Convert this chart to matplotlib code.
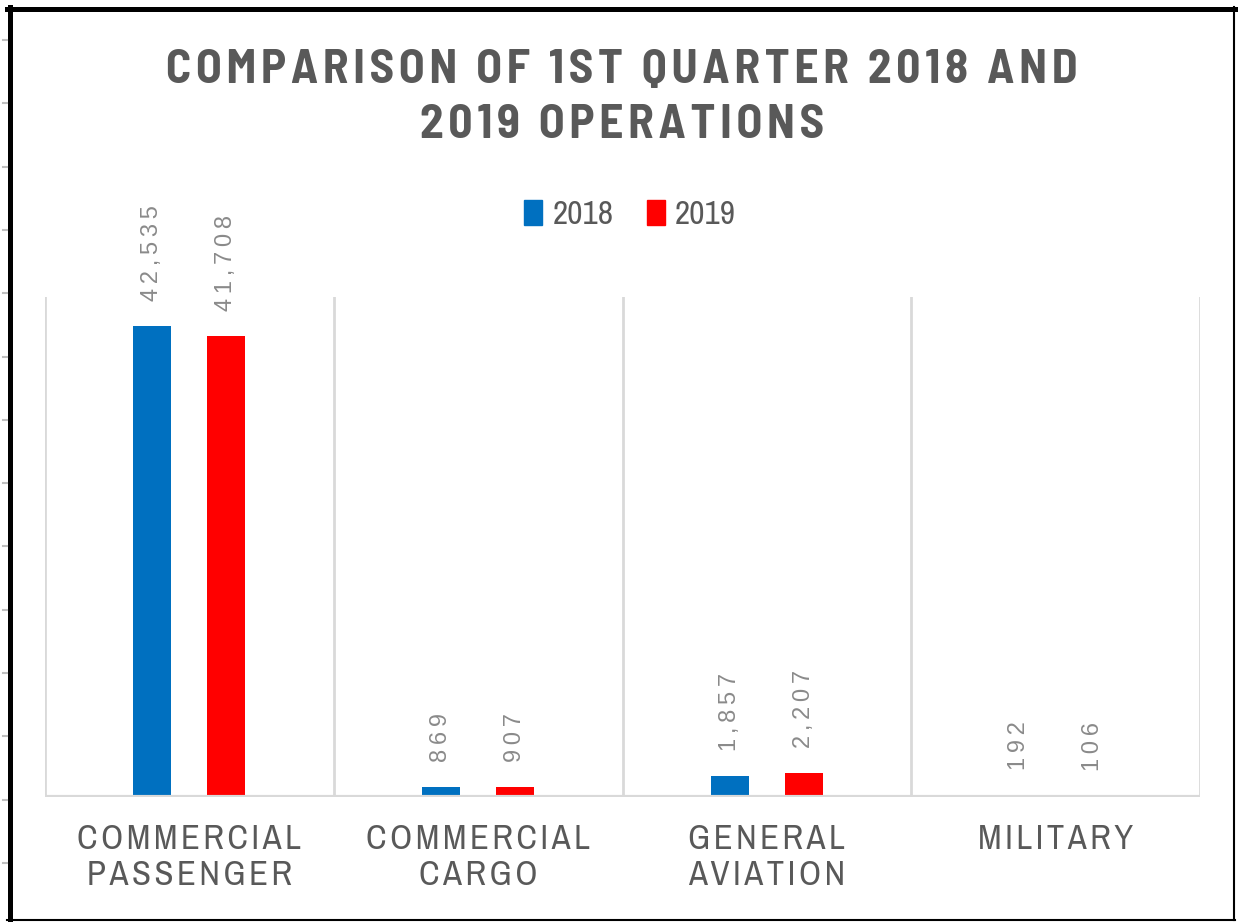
import matplotlib
matplotlib.use("Agg")
import matplotlib.pyplot as plt
from matplotlib.patches import Patch
from matplotlib.lines import Line2D
import numpy as np

categories = ["COMMERCIAL\nPASSENGER", "COMMERCIAL\nCARGO", "GENERAL\nAVIATION", "MILITARY"]
series_names = ["2018", "2019"]
v2018 = [42535, 869, 1857, 192]
v2019 = [41708, 907, 2207, 106]
title = "COMPARISON OF 1ST QUARTER 2018 AND\n2019 OPERATIONS"

BLUE = "#0070C0"
RED = "#FF0000"
DARK = "#595959"
LIGHT = "#8a8a8a"
GRID = "#d9d9d9"

NARROW = ["Archivo Narrow", "DejaVu Sans"]
TITLEF = ["Barlow Semi Condensed", "DejaVu Sans"]
REG = ["Liberation Sans", "DejaVu Sans"]


def spaced(s, sp="\u200a"):
    return "\n".join(sp.join(line) for line in s.split("\n"))


W, H = 1239, 922
fig = plt.figure(figsize=(W / 100, H / 100), dpi=100)
ax = fig.add_axes([45 / W, 1 - 797 / H, (1200 - 45) / W, (797 - 297) / H])

x = np.arange(len(categories))
off = 0.128
bw = 0.132
b1 = ax.bar(x - off, v2018, bw, color=BLUE, zorder=2)
b2 = ax.bar(x + off, v2019, bw, color=RED, zorder=2)

for bars, vals in ((b1, v2018), (b2, v2019)):
    for r, v in zip(bars, vals):
        ax.annotate(spaced(f"{v:,}", "\u2009"), (r.get_x() + r.get_width() / 2, r.get_height()),
                    xytext=(0, 18), textcoords="offset points", rotation=90,
                    ha="center", va="bottom", fontsize=17, color=LIGHT, family=REG)

ax.set_xlim(-0.5, len(categories) - 0.5)
ax.set_ylim(0, 45200)
for b in np.arange(-0.5, len(categories), 1.0):
    ax.axvline(b, color=GRID, lw=2, zorder=1)
ax.axhline(0, color=GRID, lw=3, zorder=3)
for s in ax.spines.values():
    s.set_visible(False)
ax.set_yticks([])
ax.set_xticks(x)
ax.set_xticklabels([spaced(c) for c in categories], fontsize=25, color=DARK,
                   family=NARROW, linespacing=1.15)
ax.tick_params(axis="x", length=0, pad=19)

fig.text(622 / W, 1 - 98 / H, spaced(title), ha="center", va="center",
         fontsize=34, fontweight="bold", color=DARK, family=TITLEF, linespacing=1.36)

handles = [Patch(color=BLUE), Patch(color=RED)]
fig.legend(handles, series_names, loc="center", bbox_to_anchor=(630 / W, 1 - 215 / H), ncol=2,
           frameon=False, handlelength=0.55, handleheight=0.8,
           handletextpad=0.3, columnspacing=1.0, labelcolor=DARK, prop={"family": NARROW, "size": 24})

# outer frame
fig.add_artist(Line2D([9.5 / W, 9.5 / W], [1 - 7 / H, 1 - 920 / H], color="black", lw=3.6, transform=fig.transFigure))
fig.add_artist(Line2D([7 / W, 1235 / W], [1 - 9 / H, 1 - 9 / H], color="black", lw=3.6, transform=fig.transFigure))
fig.add_artist(Line2D([1234 / W, 1234 / W], [1 - 7 / H, 1 - 920 / H], color="black", lw=1.5, transform=fig.transFigure))
fig.add_artist(Line2D([7 / W, 1235 / W], [1 - 920 / H, 1 - 920 / H], color="black", lw=1.5, transform=fig.transFigure))
# small tick marks outside the frame on the left
for yy in np.arange(40, 900, 63.3):
    fig.add_artist(Line2D([3 / W, 7 / W], [1 - yy / H, 1 - yy / H], color="#bfbfbf", lw=1.5, transform=fig.transFigure))

fig.savefig("out.png", dpi=100)
